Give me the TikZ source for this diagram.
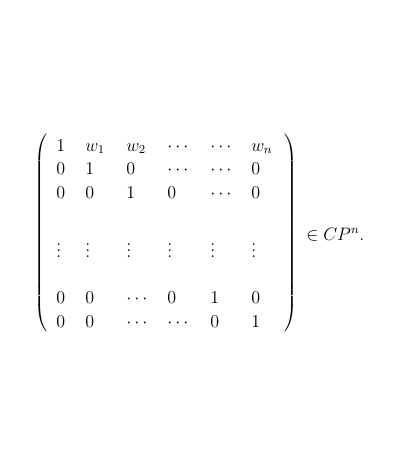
\documentclass[tikz,border=0pt]{standalone}
\usepackage{amsmath}
\usepackage{amssymb}
\newcommand{\bigparen}[1]{$\delimiterfactor=1000\delimitershortfall=0pt\nulldelimiterspace=0pt
  \left#1\vcenter{\hrule height 132pt width 0pt}\right.$}
\newcommand{\bigcparen}[1]{$\delimiterfactor=1000\delimitershortfall=0pt\nulldelimiterspace=0pt
  \left.\vcenter{\hrule height 132pt width 0pt}\right#1$}
\begin{document}
\begin{tikzpicture}[line cap=round,line join=round,x=0.6667pt,y=-0.6667pt,
  entry/.style={anchor=base west,inner sep=0pt,font=\fontsize{12}{14.5}\selectfont},
  paren/.style={anchor=center,inner sep=0pt}]
\useasboundingbox (0,0) rectangle (400,468);

% delimiters
\node[paren] (lp) at (41.5,233) {\bigparen{(}};
\node[paren] (rp) at (291.5,233) {\bigcparen{)}};

% row 1
\node[entry] (e11) at (56,151) {$1$};
\node[entry] (e12) at (85,151) {$w_1$};
\node[entry] (e13) at (126,151) {$w_2$};
\node[entry] (e14) at (167,151) {$\cdots$};
\node[entry] (e15) at (210,151) {$\cdots$};
\node[entry] (e16) at (251,151) {$w_n$};

% row 2
\node[entry] (e21) at (56,174.5) {$0$};
\node[entry] (e22) at (85,174.5) {$1$};
\node[entry] (e23) at (126,174.5) {$0$};
\node[entry] (e24) at (167,174.5) {$\cdots$};
\node[entry] (e25) at (210,174.5) {$\cdots$};
\node[entry] (e26) at (251,174.5) {$0$};

% row 3
\node[entry] (e31) at (56,198) {$0$};
\node[entry] (e32) at (85,198) {$0$};
\node[entry] (e33) at (126,198) {$1$};
\node[entry] (e34) at (167,198) {$0$};
\node[entry] (e35) at (210,198) {$\cdots$};
\node[entry] (e36) at (251,198) {$0$};

% vertical dots
\node[entry] (v1) at (56,257) {$\vdots$};
\node[entry] (v2) at (85,257) {$\vdots$};
\node[entry] (v3) at (126,257) {$\vdots$};
\node[entry] (v4) at (167,257) {$\vdots$};
\node[entry] (v5) at (210,257) {$\vdots$};
\node[entry] (v6) at (251,257) {$\vdots$};

% row n-1
\node[entry] (e51) at (56,303) {$0$};
\node[entry] (e52) at (85,303) {$0$};
\node[entry] (e53) at (126,303) {$\cdots$};
\node[entry] (e54) at (167,303) {$0$};
\node[entry] (e55) at (210,303) {$1$};
\node[entry] (e56) at (251,303) {$0$};

% row n
\node[entry] (e61) at (56,327) {$0$};
\node[entry] (e62) at (85,327) {$0$};
\node[entry] (e63) at (126,327) {$\cdots$};
\node[entry] (e64) at (167,327) {$\cdots$};
\node[entry] (e65) at (210,327) {$0$};
\node[entry] (e66) at (251,327) {$1$};

\node[entry] (cp) at (306,240) {$\in CP^n.$};
\end{tikzpicture}
\end{document}
